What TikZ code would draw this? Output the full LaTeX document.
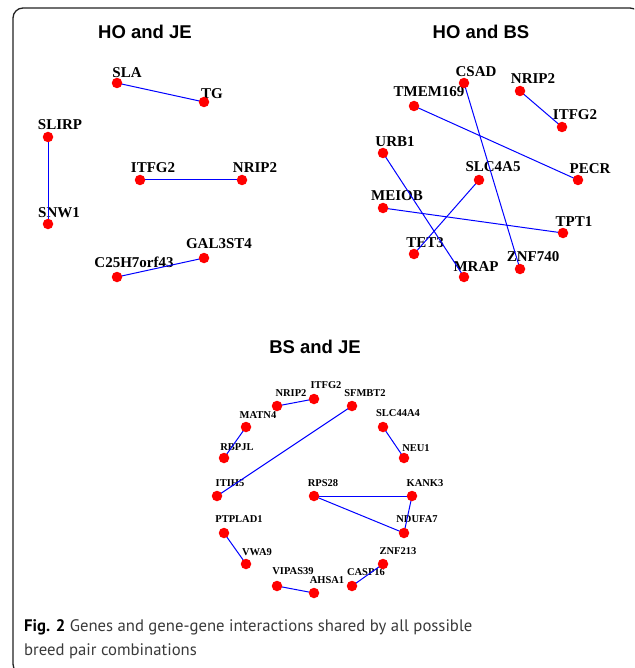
\documentclass[tikz,border=0pt]{standalone}
\usepackage{fontspec}
\setmainfont{Liberation Serif}
\newfontfamily\titlefont{Liberation Sans}
\newfontfamily\capfont{PT Sans}
\definecolor{frameline}{HTML}{222222}
\definecolor{captext}{HTML}{3A3A3A}

\begin{document}
\begin{tikzpicture}[x=1pt,y=-1pt,
  gene/.style={circle,fill=red,draw=none,inner sep=0pt,minimum size=10.5pt},
  biglabel/.style={inner sep=0pt,font=\fontsize{15}{15}\selectfont\bfseries},
  smalllabel/.style={inner sep=0pt,font=\fontsize{10.5}{10.5}\selectfont\bfseries},
  link/.style={draw=blue,line width=1pt},
  paneltitle/.style={inner sep=0pt,font=\titlefont\fontsize{18.5}{18.5}\selectfont\bfseries},
  captionline/.style={inner sep=0pt,anchor=base west,text=captext,font=\capfont\fontsize{16.7}{16.7}\selectfont},
]
\useasboundingbox (0,0) rectangle (634,668);
\clip (0,0) rectangle (634,668);

% outer frame, running off the right and bottom edges
\draw[frameline,line width=1.3pt,rounded corners=10pt] (13,8) rectangle (640,674);

% ---------------- HO and JE ----------------
\node[paneltitle] (t1) at (145,32) {HO and JE};
\coordinate (a-sla) at (117,83);   \node[biglabel] (a-sla-l) at (127,73) {SLA};
\coordinate (a-tg) at (204,102);   \node[biglabel] (a-tg-l) at (212,94) {TG};
\coordinate (a-slirp) at (48,137); \node[biglabel] (a-slirp-l) at (60,125) {SLIRP};
\coordinate (a-snw) at (48,224);   \node[biglabel] (a-snw-l) at (59,213) {SNW1};
\coordinate (a-itfg) at (140,180); \node[biglabel] (a-itfg-l) at (153,168) {ITFG2};
\coordinate (a-nrip) at (242,180); \node[biglabel] (a-nrip-l) at (255,168) {NRIP2};
\coordinate (a-gal) at (204,258);  \node[biglabel] (a-gal-l) at (219,244) {GAL3ST4};
\coordinate (a-c25) at (117,277);  \node[biglabel] (a-c25-l) at (134,262) {C25H7orf43};

\draw[link] (a-sla) -- (a-tg);
\draw[link] (a-slirp) -- (a-snw);
\draw[link] (a-itfg) -- (a-nrip);
\draw[link] (a-c25) -- (a-gal);

\foreach \g in {sla,tg,slirp,snw,itfg,nrip,gal,c25}
  \node[gene] (a-\g-dot) at (a-\g) {};

% ---------------- HO and BS ----------------
\node[paneltitle] (t2) at (481,32) {HO and BS};
\coordinate (b-csad) at (464,83);  \node[biglabel] (b-csad-l) at (476,72) {CSAD};
\coordinate (b-nrip) at (520,91);  \node[biglabel] (b-nrip-l) at (533,79) {NRIP2};
\coordinate (b-itfg) at (562,127); \node[biglabel] (b-itfg-l) at (575,115) {ITFG2};
\coordinate (b-tmem) at (414,106); \node[biglabel] (b-tmem-l) at (429,92) {TMEM169};
\coordinate (b-urb) at (383,153);  \node[biglabel] (b-urb-l) at (395,142) {URB1};
\coordinate (b-slc) at (479,180);  \node[biglabel] (b-slc-l) at (493,167) {SLC4A5};
\coordinate (b-pecr) at (578,180); \node[biglabel] (b-pecr-l) at (590,169) {PECR};
\coordinate (b-meiob) at (383,208);\node[biglabel] (b-meiob-l) at (397,196) {MEIOB};
\coordinate (b-tpt) at (563,233);  \node[biglabel] (b-tpt-l) at (574,222) {TPT1};
\coordinate (b-tet) at (414,254);  \node[biglabel] (b-tet-l) at (425,243) {TET3};
\coordinate (b-znf) at (520,269);  \node[biglabel] (b-znf-l) at (533,257) {ZNF740};
\coordinate (b-mrap) at (464,277); \node[biglabel] (b-mrap-l) at (476,267) {MRAP};

\draw[link] (b-csad) -- (b-znf);
\draw[link] (b-nrip) -- (b-itfg);
\draw[link] (b-tmem) -- (b-pecr);
\draw[link] (b-urb) -- (b-mrap);
\draw[link] (b-slc) -- (b-tet);
\draw[link] (b-meiob) -- (b-tpt);

\foreach \g in {csad,nrip,itfg,tmem,urb,slc,pecr,meiob,tpt,tet,znf,mrap}
  \node[gene] (b-\g-dot) at (b-\g) {};

% ---------------- BS and JE ----------------
\node[paneltitle] (t3) at (315,347) {BS and JE};
\coordinate (c-nrip) at (277,406);  \node[smalllabel] (c-nrip-l) at (291,393) {NRIP2};
\coordinate (c-itfg) at (314,399);  \node[smalllabel] (c-itfg-l) at (326,385) {ITFG2};
\coordinate (c-sfm) at (352,406);   \node[smalllabel] (c-sfm-l) at (365,393) {SFMBT2};
\coordinate (c-matn) at (246,427);  \node[smalllabel] (c-matn-l) at (258,415) {MATN4};
\coordinate (c-slc) at (383,427);   \node[smalllabel] (c-slc-l) at (398,413) {SLC44A4};
\coordinate (c-rbp) at (224,458);   \node[smalllabel] (c-rbp-l) at (237,447) {RBPJL};
\coordinate (c-neu) at (404,458);   \node[smalllabel] (c-neu-l) at (416,448) {NEU1};
\coordinate (c-itih) at (217,496);  \node[smalllabel] (c-itih-l) at (230,483) {ITIH5};
\coordinate (c-rps) at (314,496);   \node[smalllabel] (c-rps-l) at (323,483) {RPS28};
\coordinate (c-kank) at (412,496);  \node[smalllabel] (c-kank-l) at (425,483) {KANK3};
\coordinate (c-ptp) at (224,533);   \node[smalllabel] (c-ptp-l) at (239,519) {PTPLAD1};
\coordinate (c-ndu) at (404,533);   \node[smalllabel] (c-ndu-l) at (417,519) {NDUFA7};
\coordinate (c-vwa) at (246,564);   \node[smalllabel] (c-vwa-l) at (257,552) {VWA9};
\coordinate (c-znf) at (383,564);   \node[smalllabel] (c-znf-l) at (398,551) {ZNF213};
\coordinate (c-vip) at (277,586);   \node[smalllabel] (c-vip-l) at (293,571) {VIPAS39};
\coordinate (c-ahsa) at (314,593);  \node[smalllabel] (c-ahsa-l) at (327,580) {AHSA1};
\coordinate (c-casp) at (352,586);  \node[smalllabel] (c-casp-l) at (366,572) {CASP16};

\draw[link] (c-nrip) -- (c-itfg);
\draw[link] (c-matn) -- (c-rbp);
\draw[link] (c-sfm) -- (c-itih);
\draw[link] (c-slc) -- (c-neu);
\draw[link] (c-rps) -- (c-kank);
\draw[link] (c-rps) -- (c-ndu);
\draw[link] (c-kank) -- (c-ndu);
\draw[link] (c-ptp) -- (c-vwa);
\draw[link] (c-vip) -- (c-ahsa);
\draw[link] (c-znf) -- (c-casp);

\foreach \g in {nrip,itfg,sfm,matn,slc,rbp,neu,itih,rps,kank,ptp,ndu,vwa,znf,vip,ahsa,casp}
  \node[gene] (c-\g-dot) at (c-\g) {};

% ---------------- caption ----------------
\node[captionline] (cap1) at (24,631) {{\color{black}\bfseries Fig. 2} Genes and gene-gene interactions shared by all possible};
\node[captionline] (cap2) at (24,655) {breed pair combinations};
\end{tikzpicture}
\end{document}
